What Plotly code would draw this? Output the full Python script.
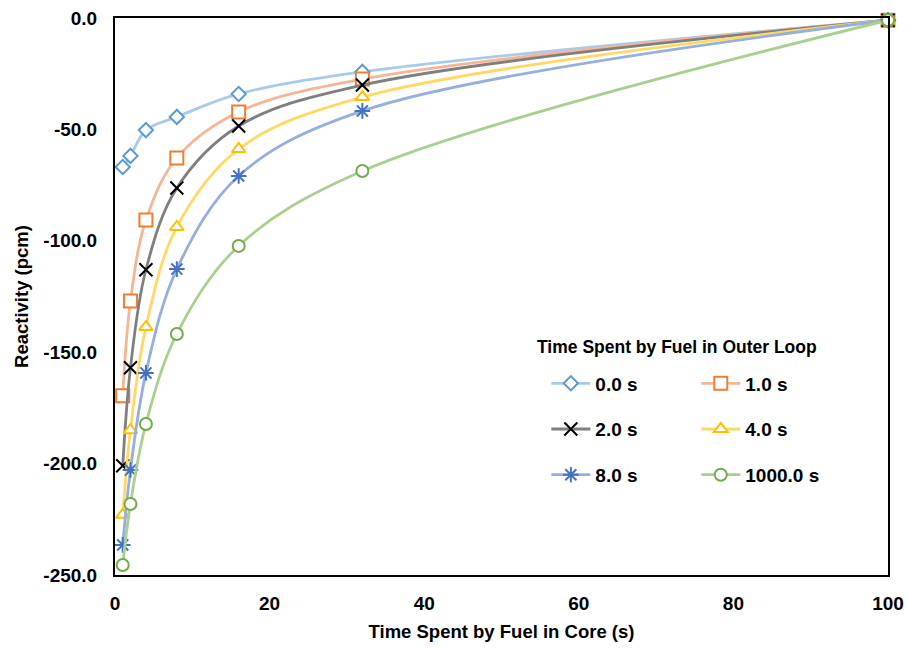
import plotly.graph_objects as go

x_core = [1, 2, 4, 8, 16, 32, 100]

series_names = ["0.0 s", "1.0 s", "2.0 s", "4.0 s", "8.0 s", "1000.0 s"]
r_0s = [-66.9, -61.9, -50.3, -44.4, -34.1, -24.2, -1.0]
r_1s = [-169.5, -127.0, -90.7, -62.8, -42.2, -27.4, -1.0]
r_2s = [-201.0, -157.0, -113.0, -76.3, -48.5, -30.1, -1.0]
r_4s = [-223.0, -185.0, -138.7, -93.8, -58.8, -35.5, -1.0]
r_8s = [-236.5, -202.9, -159.3, -112.7, -70.9, -41.7, -1.0]
r_1000s = [-245.5, -218.1, -182.2, -141.8, -102.3, -68.7, -1.0]
series_values = [r_0s, r_1s, r_2s, r_4s, r_8s, r_1000s]

y_tick_vals = [0, -50, -100, -150, -200, -250]
y_tick_text = ["0.0", "-50.0", "-100.0", "-150.0", "-200.0", "-250.0"]
x_tick_vals = [0, 20, 40, 60, 80, 100]

marker_colors = ["#5B9BD5", "#ED7D31", "#000000", "#FFC000", "#4472C4", "#70AD47"]
line_colors = ["#A9CBEA", "#F5B695", "#7F7F7F", "#FFD966", "#95AFDF", "#A9D08E"]
symbols = ["diamond", "square", "x-thin", "triangle-up", "asterisk", "circle"]
sizes = [11, 13, 13, 12, 13, 12]
legend_ids = ["legend", "legend2", "legend", "legend2", "legend", "legend2"]

FONT = "Liberation Sans, Arial, sans-serif"

fig = go.Figure()
for i, (name, vals) in enumerate(zip(series_names, series_values)):
    line_only = symbols[i] in ("x-thin", "asterisk")
    fig.add_trace(go.Scatter(
        x=x_core, y=vals, name=name, mode="lines+markers",
        line=dict(color=line_colors[i], width=2.8, shape="spline", smoothing=1.0),
        marker=dict(
            symbol=symbols[i], size=sizes[i],
            color="white" if not line_only else marker_colors[i],
            line=dict(color=marker_colors[i], width=2),
        ),
        cliponaxis=False,
        legend=legend_ids[i], legendgroup=name,
    ))

leg_common = dict(
    font=dict(family=FONT, size=19, color="#000000", weight="bold"),
    bgcolor="rgba(0,0,0,0)", tracegroupgap=18, yanchor="top",
    orientation="v", itemwidth=39,
)

fig.update_layout(
    width=907, height=649,
    margin=dict(l=115, r=19, t=18, b=74),
    plot_bgcolor="white", paper_bgcolor="white",
    font=dict(family=FONT, color="#000000"),
    legend=dict(x=0.558, y=0.378, **leg_common),
    legend2=dict(x=0.752, y=0.378, **leg_common),
    annotations=[dict(
        text="<b>Time Spent by Fuel in Outer Loop</b>", x=0.727, y=0.41,
        xref="paper", yref="paper", showarrow=False,
        font=dict(family=FONT, size=17.5, color="#000000"),
        xanchor="center", yanchor="middle",
    )],
    xaxis=dict(
        range=[0, 100], tickvals=x_tick_vals, ticks="", showgrid=False, zeroline=False,
        showline=True, linecolor="#000000", linewidth=2, mirror=True, automargin=False,
        tickfont=dict(family=FONT, size=19, weight="bold"), ticklabelstandoff=10,
        title=dict(text="<b>Time Spent by Fuel in Core (s)</b>",
                   font=dict(family=FONT, size=18.5), standoff=12),
    ),
    yaxis=dict(
        range=[-250, 0], tickvals=y_tick_vals, ticktext=y_tick_text, ticks="",
        showgrid=False, zeroline=False, automargin=False,
        showline=True, linecolor="#000000", linewidth=2, mirror=True,
        tickfont=dict(family=FONT, size=19, weight="bold"), ticklabelstandoff=12,
        title=dict(text="<b>Reactivity (pcm)</b>",
                   font=dict(family=FONT, size=18.5), standoff=10),
    ),
)

fig.write_html("out.html")
